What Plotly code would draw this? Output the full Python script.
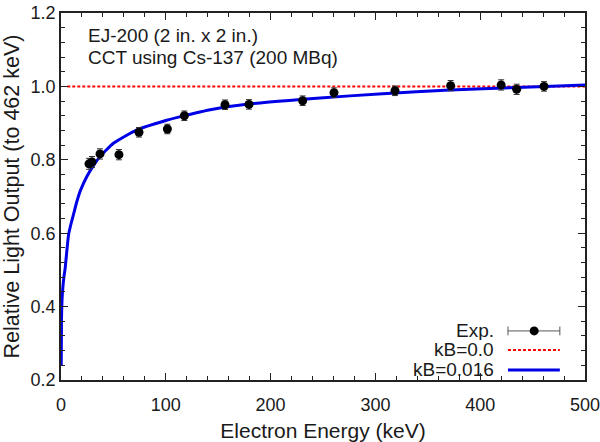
import plotly.graph_objects as go

# Experimental points (Compton coincidence technique)
exp_energy = [26.7, 29.6, 37.2, 55.3, 74.4, 101.5, 117.7, 156.5, 179.4, 230.6,
              260.5, 318.7, 371.8, 420.0, 434.8, 460.9]
exp_light = [0.789, 0.794, 0.816, 0.814, 0.875, 0.884, 0.920, 0.950, 0.951, 0.961,
             0.983, 0.988, 1.002, 1.004, 0.992, 1.000]
exp_err = [0.015, 0.015, 0.014, 0.014, 0.013, 0.013, 0.013, 0.013, 0.013, 0.013,
           0.013, 0.013, 0.014, 0.014, 0.014, 0.013]

# kB = 0.0 (linear response)
lin_energy = [6, 500]
lin_light = [1.0, 1.0]

# kB = 0.016 Birks curve
birks_energy = [0.2, 0.5, 1.0, 2.0, 3.0, 4.0, 5.5, 7.3, 9.5, 12, 15, 18.5, 24.8, 30, 37,
                50, 72, 100, 113, 145, 190, 244, 307, 371, 435, 462, 500]
birks_light = [0.24, 0.37, 0.42, 0.46, 0.485, 0.505, 0.55, 0.597, 0.625, 0.652, 0.685,
               0.716, 0.755, 0.780, 0.808, 0.845, 0.881, 0.907, 0.917, 0.938, 0.955,
               0.968, 0.980, 0.990, 0.997, 1.000, 1.004]

FONT = "Liberation Sans, Arial, Helvetica, sans-serif"
TXT = "#1a1a1a"

fig = go.Figure()
fig.add_trace(go.Scatter(x=lin_energy, y=lin_light, mode="lines",
                         line=dict(color="#ff0000", width=2, dash="3px,2px"),
                         name="kB=0.0", showlegend=False))
fig.add_trace(go.Scatter(x=birks_energy, y=birks_light, mode="lines",
                         line=dict(color="#0000e6", width=3, shape="spline", smoothing=0.5),
                         name="kB=0.016", showlegend=False))
fig.add_trace(go.Scatter(x=exp_energy, y=exp_light, mode="markers",
                         marker=dict(color="black", size=9),
                         error_y=dict(type="data", array=exp_err, visible=True,
                                      color="#333333", thickness=1, width=3),
                         name="Exp.", showlegend=False))

axis_common = dict(showline=True, linecolor="#222", linewidth=1.5, mirror="ticks",
                   ticks="inside", ticklen=7, tickwidth=1, tickcolor="#222",
                   showgrid=False, zeroline=False, ticklabeloverflow="allow",
                   automargin=False,
                   tickfont=dict(family=FONT, size=18, color=TXT))

fig.update_xaxes(range=[0, 500], dtick=100, tick0=0, ticklabelstandoff=8,
                 minor=dict(dtick=20, ticklen=4, ticks="inside", tickcolor="#222"),
                 title=dict(text="Electron Energy (keV)", font=dict(family=FONT, size=21, color=TXT),
                            standoff=12),
                 **axis_common)
fig.update_yaxes(range=[0.2, 1.2], dtick=0.2, tick0=0.2, tickformat=".1f",
                 minor=dict(dtick=0.04, ticklen=4, ticks="inside", tickcolor="#222"),
                 title=dict(text="Relative Light Output (to 462 keV)",
                            font=dict(family=FONT, size=21.5, color=TXT), standoff=8),
                 **axis_common)

# Text annotations
annotations = [
    dict(text="EJ-200 (2 in. x 2 in.)", x=0.048, y=0.940),
    dict(text="CCT using Cs-137 (200 MBq)", x=0.048, y=0.880),
]
anns = [dict(xref="paper", yref="paper", xanchor="left", yanchor="middle",
             showarrow=False, font=dict(family=FONT, size=19, color=TXT), **a)
        for a in annotations]

# Manual legend (text left, sample right)
ya, yb, yc = 0.1337, 0.0819, 0.0274
leg_rows = [("Exp.", ya), ("kB=0.0", yb), ("kB=0.016", yc)]
for label, yy in leg_rows:
    anns.append(dict(xref="paper", yref="paper", x=0.830, y=yy, xanchor="right",
                     yanchor="middle", showarrow=False, text=label, height=19,
                     font=dict(family=FONT, size=19, color=TXT)))

x0s, x1s = 0.853, 0.952
shapes = [
    dict(type="line", xref="paper", yref="paper", x0=x0s, x1=x1s, y0=ya, y1=ya,
         line=dict(color="#555", width=1)),
    dict(type="line", xref="paper", yref="paper", x0=x0s, x1=x0s, y0=ya - 0.012, y1=ya + 0.012,
         line=dict(color="#555", width=1)),
    dict(type="line", xref="paper", yref="paper", x0=x1s, x1=x1s, y0=ya - 0.012, y1=ya + 0.012,
         line=dict(color="#555", width=1)),
    dict(type="circle", xref="paper", yref="paper", xsizemode="pixel", ysizemode="pixel",
         xanchor=0.903, yanchor=ya, x0=-4.5, x1=4.5, y0=-4.5, y1=4.5,
         fillcolor="black", line=dict(color="black", width=0)),
    dict(type="line", xref="paper", yref="paper", x0=x0s, x1=x1s, y0=yb, y1=yb,
         line=dict(color="#ff0000", width=2, dash="3px,2px")),
    dict(type="line", xref="paper", yref="paper", x0=x0s, x1=x1s, y0=yc, y1=yc,
         line=dict(color="#0000e6", width=3)),
]

fig.update_layout(width=600, height=442, margin=dict(l=61, r=15, t=13, b=62),
                  plot_bgcolor="white", paper_bgcolor="white",
                  annotations=anns, shapes=shapes, showlegend=False)

fig.write_html("out.html")
